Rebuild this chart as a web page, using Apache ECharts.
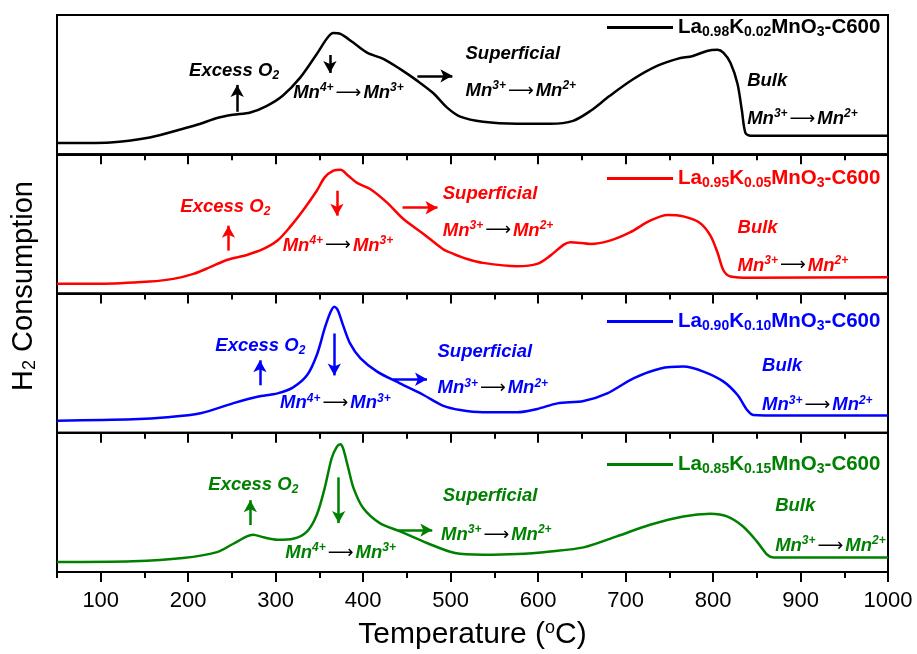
<!DOCTYPE html>
<html><head><meta charset="utf-8">
<script src="https://cdn.jsdelivr.net/npm/echarts@6/dist/echarts.min.js"></script>
<style>html,body{margin:0;padding:0;background:#fff}#c{width:917px;height:654px}</style>
</head><body><div id="c"></div>
<script>
// ---------- data ----------
const seriesNames = ['La0.98K0.02MnO3-C600','La0.95K0.05MnO3-C600','La0.90K0.10MnO3-C600','La0.85K0.15MnO3-C600'];
const laSub = ['0.98','0.95','0.90','0.85'];
const kSub  = ['0.02','0.05','0.10','0.15'];

const tempBlack = [50,111,156,194,214,233,251,271,290,308,328,347,359,366,374,389,405,423,442,462,480,496,511,537,576,614,640,660,682,709,736,759,777,793,805,812,820,828,833,837,843,1000];
const valBlack  = [8.0,8.5,12,18.3,21.9,26,28.3,30,34.8,42,55,72,83.5,87,86.4,80,72.8,68.5,61.3,52.7,44,33.5,27,23.3,21.9,21.9,24,31.2,42,54,63.4,68.5,70.6,74.2,75,72.8,65.6,50.5,31.2,15.4,13.3,13.3];

const tempRed = [50,99,156,183,206,225,244,267,286,302,316,331,347,356,366,374,383,393,408,427,446,469,491,503,519,537,576,599,614,629,637,660,682,705,728,748,766,785,797,805,812,820,843,1000];
const valRed  = [7.0,7.0,8.6,10.5,14.1,18.9,24.1,27.7,32,38,47.5,59.5,73.8,83.4,88.2,88.9,84.6,79.4,75,65.4,53.5,42.8,32,28.5,24.8,22,19.6,21.3,27.2,34.9,36.8,35.6,38,43.9,52.3,56.4,55.4,50.7,41.6,29.6,16.5,12.2,11.3,11.7];

const tempBlue = [50,137,176,214,251,279,302,320,336,347,356,362,367,371,377,385,397,416,442,469,491,511,537,576,599,622,652,679,709,740,766,789,812,828,839,846,880,1000];
const valBlue  = [8.7,9.7,11.1,14,21.1,25.9,28.3,32.6,41.4,55.8,74.9,85.7,90.5,88,77.3,64.2,53.4,43.9,35.5,27.1,19.5,16.3,14.7,14.7,17.1,21.1,22.8,28.3,39.1,46.2,47.5,43.9,36.7,27.1,16.3,12.8,12.3,12.3];

const tempGreen = [50,137,194,233,251,267,274,286,302,320,336,347,356,364,370,374,377,383,389,400,419,442,473,505,537,576,614,652,690,728,766,797,816,834,850,862,869,1000];
const valGreen  = [7.2,7.7,10,14.3,20.1,25.6,26.8,24.9,23.2,23.9,29.2,41.1,60.2,81.7,90.1,91.8,88.9,74.6,60.2,45.9,35.1,29.2,20.8,13.6,12.4,12.9,14.8,17.7,25.6,33.9,39.9,41.8,39.9,32.8,22,12.4,10.5,10.5];

const majorTicks = [100,200,300,400,500,600,700,800,900,1000];
const minorTicks = [50,150,250,350,450,550,650,750,850,950];

// ---------- layout / style ----------
const colors = ['#000000','#ff0000','#0000ff','#008000'];
const temps = [tempBlack,tempRed,tempBlue,tempGreen];
const vals = [valBlack,valRed,valBlue,valGreen];
const GT = [15,154.25,293.5,432.75], GH = 139.25;
const legendTop = [12,163,306,449];

// annotation anchors in data coords (temperature, relative signal)
const ann = [
 { excess:[201,59.9], mn43:[320,44], sup:[517,72], mn32:[517,45.5], bulk:[839,52.7], mn32b:[839,25.4], up:[256,30.5,49.8], down:[362,71.3,58.4], right:[462,502,56.3] },
 { excess:[191,62], mn43:[308,34.4], sup:[491,71.7], mn32:[491,45.2], bulk:[828,47.3], mn32b:[828,20.1], up:[246,30.8,48.7], down:[370,73.8,55.9], right:[445,485,61.6] },
 { excess:[231,62.7], mn43:[305,21.1], sup:[485,58.4], mn32:[485,31.9], bulk:[856,47.7], mn32b:[856,19.7], up:[282,34.1,52], down:[367,71.3,41.2], right:[434,473,38.4] },
 { excess:[223,62.4], mn43:[311,13.6], sup:[491,54.5], mn32:[489,26.5], bulk:[871,47.3], mn32b:[871,18.6], up:[271,33.7,51.6], down:[372,68,35.1], right:[440,479,30.1] }
];

const FF = "'Liberation Sans', Arial, sans-serif";

function annRich(c){
  return {
    t:{fontFamily:FF, fontWeight:'bold', fontStyle:'italic', fontSize:18.5, color:c, lineHeight:24},
    sp:{fontFamily:FF, fontWeight:'bold', fontStyle:'italic', fontSize:12, color:c, padding:[0,0,10,0]},
    sb:{fontFamily:FF, fontWeight:'bold', fontStyle:'italic', fontSize:12, color:c, padding:[10,0,0,0]},
    ar:{fontFamily:"'DejaVu Sans', sans-serif", fontSize:18, color:'#000', padding:[0,2,0,2]}
  };
}
const TXT = {
  excess:'{t|Excess O}{sb|2}',
  mn43:'{t|Mn}{sp|4+}{ar|⟶}{t|Mn}{sp|3+}',
  sup:'{t|Superficial}',
  mn32:'{t|Mn}{sp|3+}{ar|⟶}{t|Mn}{sp|2+}',
  bulk:'{t|Bulk}'
};

const grids=[], xAxes=[], yAxes=[], series=[], legends=[];
for(let i=0;i<4;i++){
  grids.push({left:57, right:29, top:GT[i], height:GH, show:true, borderColor:'#000', borderWidth:2,
    backgroundColor:'transparent', containLabel:false, outerBoundsMode:'none'});
  const last = i===3;
  xAxes.push({gridIndex:i, type:'value', min:50, max:1000, position:'bottom',
    axisLine:{show:true, onZero:false, lineStyle:{color:'#000', width:2}},
    axisTick:{show:true, customValues:majorTicks, length:10, inside:false, lineStyle:{color:'#000', width:2}},
    axisLabel:{show:last, customValues:majorTicks, formatter:v=>String(v), color:'#000', fontFamily:FF, fontSize:22, margin:18, hideOverlap:false},
    splitLine:{show:false},
    name: last ? '{m|Temperature (}{s|o}{m|C)}' : '',
    nameLocation:'middle', nameGap:47,
    nameTextStyle:{rich:{m:{fontFamily:FF, fontSize:30, color:'#000'}, s:{fontFamily:FF, fontSize:18, color:'#000', padding:[0,0,14,0]}}}
  });
  xAxes.push({gridIndex:i, type:'value', min:50, max:1000, position:'bottom',
    axisLine:{show:false, onZero:false},
    axisTick:{show:true, customValues:minorTicks, length:6, inside:false, lineStyle:{color:'#000', width:2}},
    axisLabel:{show:false}, splitLine:{show:false}
  });
  yAxes.push({gridIndex:i, type:'value', min:0, max:100, axisLine:{show:false}, axisTick:{show:false}, axisLabel:{show:false}, splitLine:{show:false}});

  const a = ann[i], c = colors[i];
  const mp = (k, key) => ({coord:a[k], label:{formatter:TXT[key]}});
  series.push({
    name: seriesNames[i], type:'line', xAxisIndex:2*i, yAxisIndex:i,
    data: temps[i].map((t,j)=>[t, vals[i][j]]),
    showSymbol:false, smooth:0.3, color:c,
    lineStyle:{color:c, width:2.5},
    markPoint:{symbol:'circle', symbolSize:0, silent:true, animation:false,
      label:{show:true, position:'right', distance:0, rich:annRich(c)},
      data:[mp('excess','excess'), mp('mn43','mn43'), mp('sup','sup'), mp('mn32','mn32'), mp('bulk','bulk'), mp('mn32b','mn32')]},
    markLine:{silent:true, animation:false, symbol:['none','arrow'], symbolSize:[10,12],
      label:{show:false}, lineStyle:{color:c, width:2.5, type:'solid'},
      data:[
        [{coord:[a.up[0],a.up[1]]},{coord:[a.up[0],a.up[2]]}],
        [{coord:[a.down[0],a.down[1]]},{coord:[a.down[0],a.down[2]]}],
        [{coord:[a.right[0],a.right[2]]},{coord:[a.right[1],a.right[2]]}]
      ]}
  });
  legends.push({data:[seriesNames[i]], left:602, top:legendTop[i], icon:'rect', itemWidth:66, itemHeight:3, selectedMode:false,
    formatter: () => '{b|La}{s|'+laSub[i]+'}{b|K}{s|'+kSub[i]+'}{b|MnO}{s|3}{b|-C600}',
    textStyle:{color:c, rich:{
      b:{fontFamily:FF, fontWeight:'bold', fontSize:20.5, color:c, lineHeight:24},
      s:{fontFamily:FF, fontWeight:'bold', fontSize:14, color:c, padding:[10,0,0,0]}
    }}
  });
}

const chart = echarts.init(document.getElementById('c'), null, {renderer:'canvas'});
chart.setOption({
  animation:false,
  backgroundColor:'#fff',
  grid:grids, xAxis:xAxes, yAxis:yAxes, series:series, legend:legends,
  graphic:[{type:'text', x:24, y:286, rotation:Math.PI/2,
    style:{text:'{m|H}{s|2}{m| Consumption}', align:'center', verticalAlign:'middle', fill:'#000',
      rich:{m:{fontFamily:FF, fontSize:29, fill:'#000'}, s:{fontFamily:FF, fontSize:18, fill:'#000', padding:[12,0,0,0]}}}}]
});
</script></body></html>
